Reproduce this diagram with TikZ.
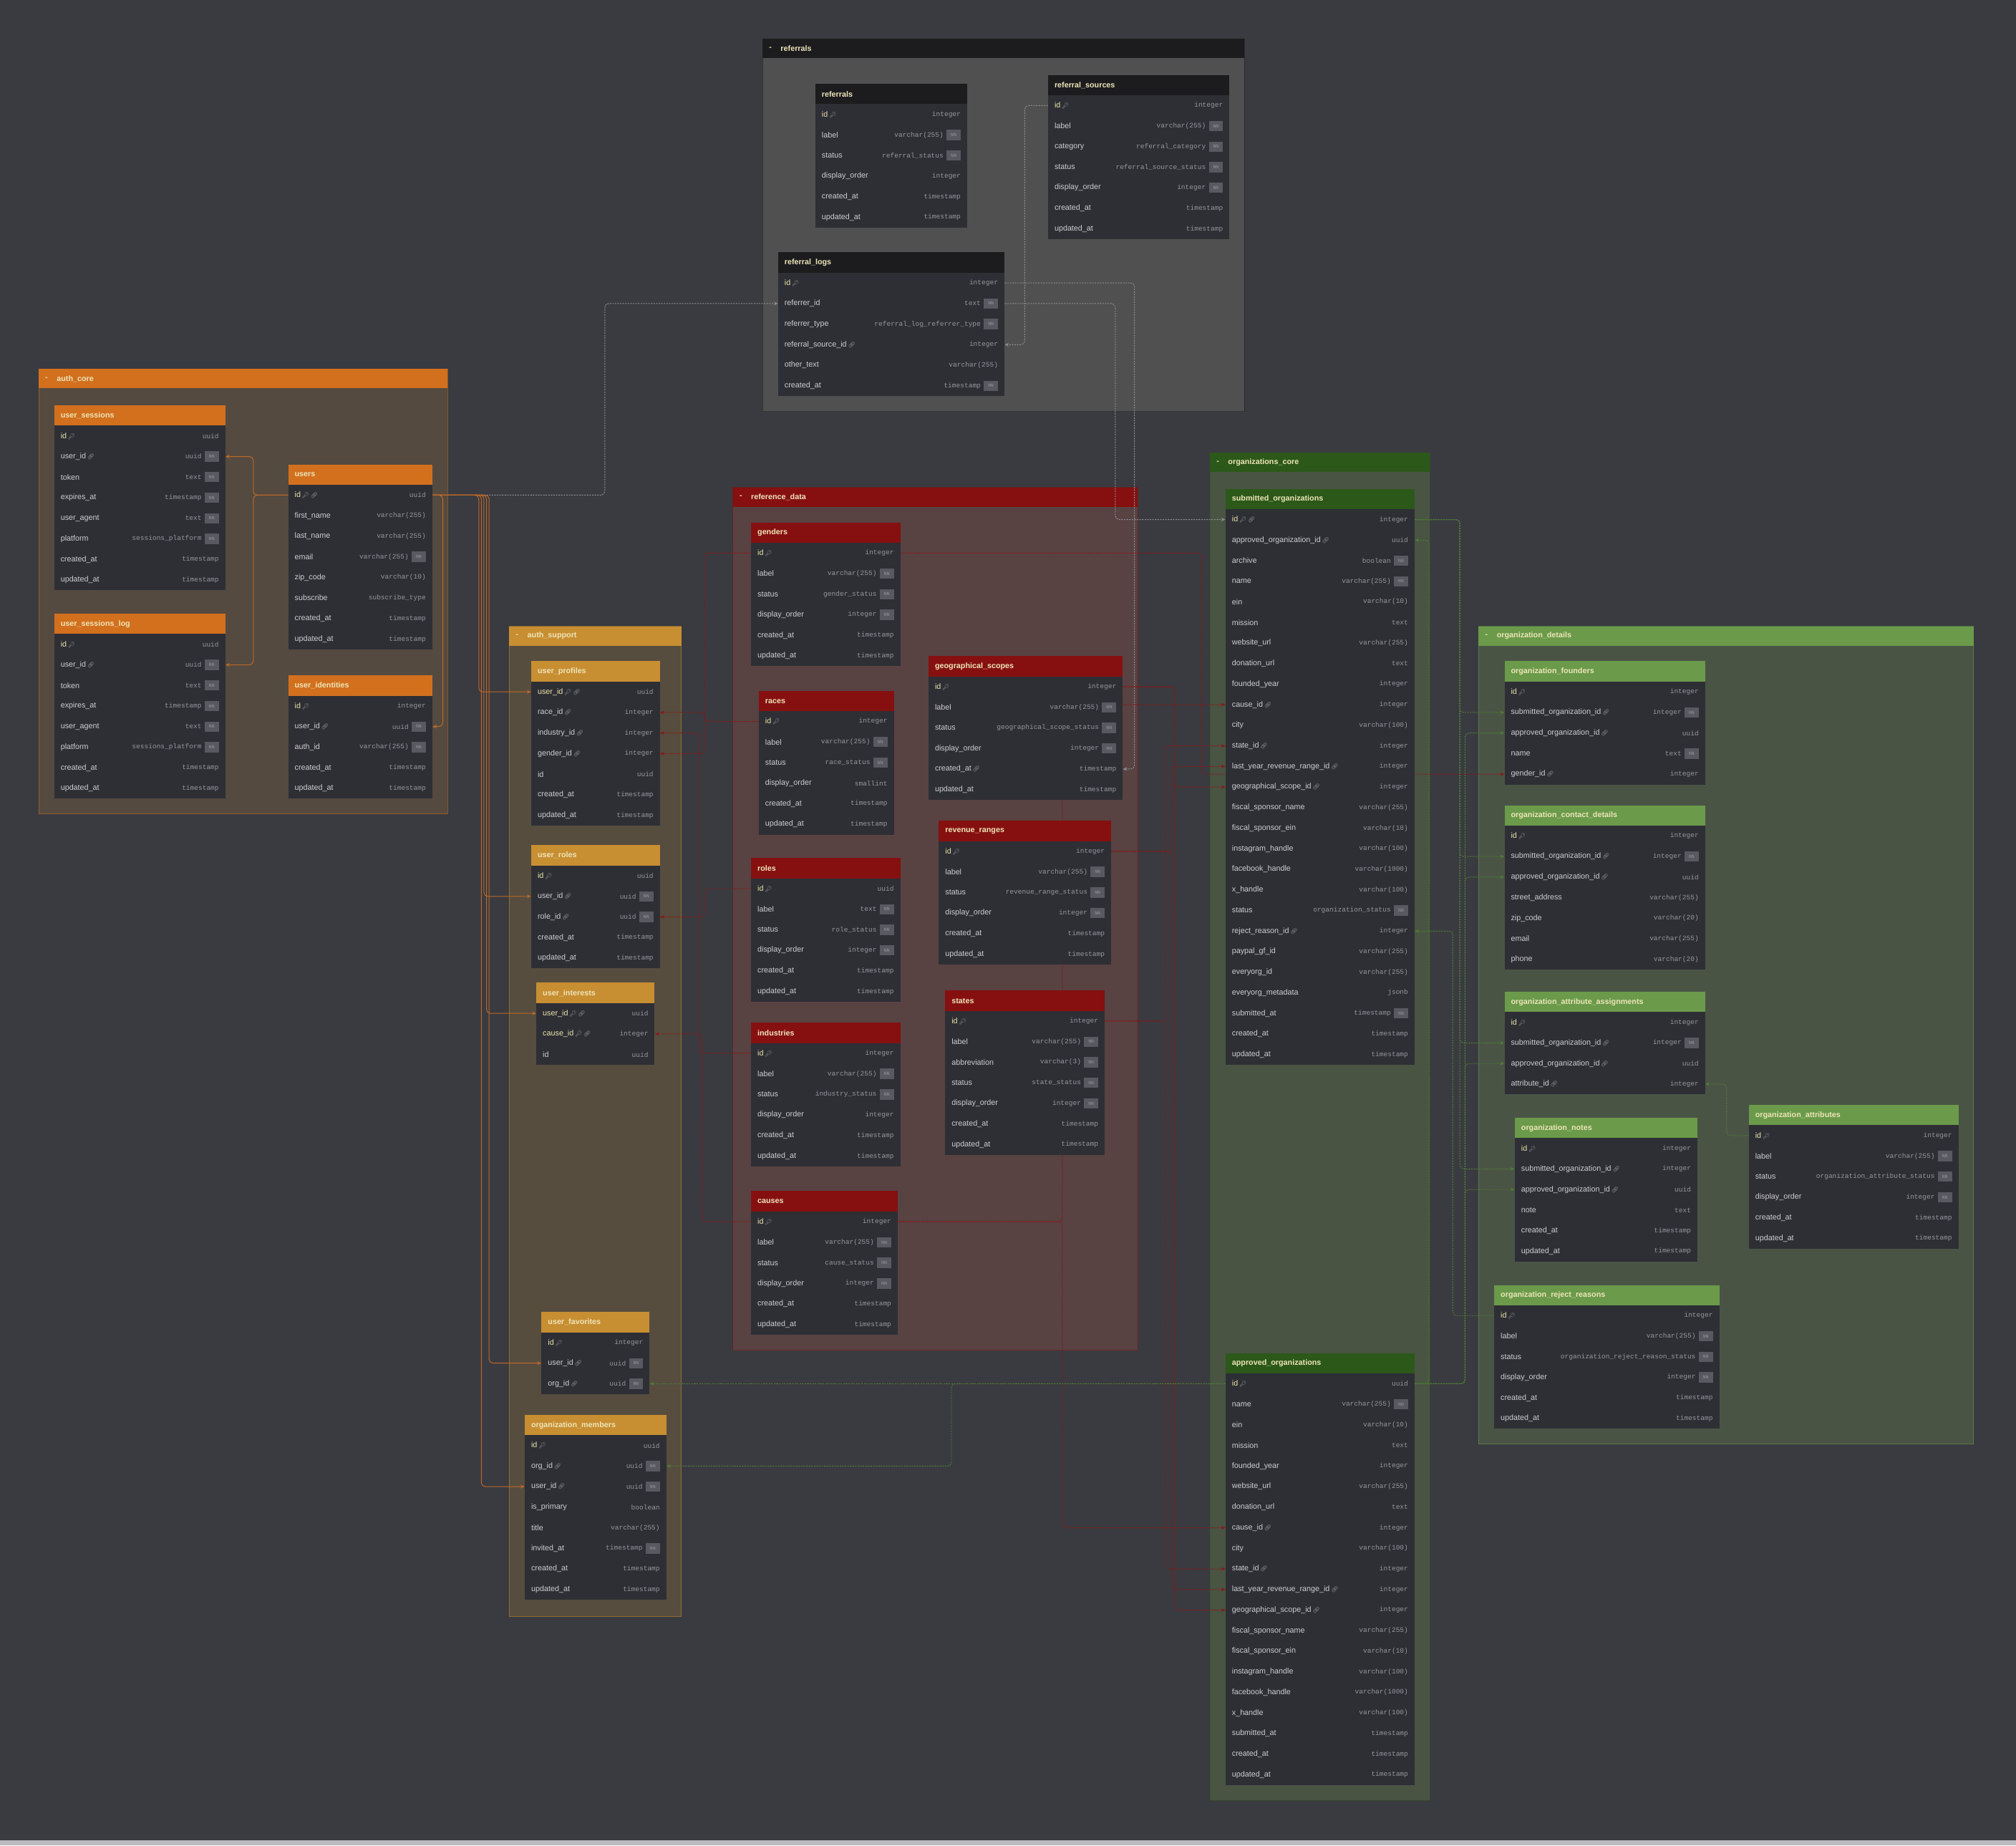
\documentclass[tikz,border=0pt]{standalone}
\usepackage{fontspec}
\setmainfont{Liberation Sans}
\setmonofont{Liberation Mono}
\newfontfamily\emojifont{Noto Emoji}
\usetikzlibrary{arrows.meta}

\pgfdeclarelayer{grp}
\pgfdeclarelayer{lnk}
\pgfsetlayers{grp,lnk,main}

\definecolor{canvas}{RGB}{58,59,64}
\definecolor{stripcol}{RGB}{185,185,190}
\definecolor{tblbody}{RGB}{46,47,53}
\definecolor{fldtxt}{RGB}{205,205,210}
\definecolor{typtxt}{RGB}{150,150,158}
\definecolor{pktxt}{RGB}{235,228,170}
\definecolor{nnbox}{RGB}{88,89,97}
\definecolor{headtxt}{RGB}{238,230,185}
\definecolor{refbg}{RGB}{80,80,80}
\definecolor{refhd}{RGB}{28,28,30}
\definecolor{acbg}{RGB}{85,74,64}
\definecolor{achd}{RGB}{210,112,30}
\definecolor{asbg}{RGB}{86,77,63}
\definecolor{ashd}{RGB}{200,142,50}
\definecolor{rdbg}{RGB}{88,66,66}
\definecolor{rdhd}{RGB}{134,16,16}
\definecolor{ocbg}{RGB}{73,84,67}
\definecolor{ochd}{RGB}{44,88,26}
\definecolor{odbg}{RGB}{74,84,69}
\definecolor{odhd}{RGB}{106,154,74}
\definecolor{lkgray}{RGB}{140,140,145}
\definecolor{lkorange}{RGB}{190,105,40}
\definecolor{lkred}{RGB}{140,22,22}
\definecolor{lkgreen}{RGB}{80,125,55}

\tikzset{
  tblhead/.style={inner sep=0pt, minimum height=16pt, anchor=north west},
  tblrow/.style={fill=tblbody, inner sep=0pt, minimum height=16pt, anchor=west},
  headtext/.style={inner sep=0pt, text=headtxt, font=\bfseries\fontsize{6}{7}\selectfont},
  fld/.style={inner sep=0pt, text=fldtxt, font=\fontsize{6}{7}\selectfont},
  typ/.style={inner sep=0pt, text=typtxt, font=\ttfamily\fontsize{5.3}{6}\selectfont},
  nnbadge/.style={fill=nnbox, inner sep=0.8pt, text=typtxt, font=\ttfamily\fontsize{3.6}{4}\selectfont, minimum width=11pt, minimum height=8pt},
  lk/.style={line width=0.55pt, rounded corners=3pt, -{Stealth[length=3.2pt,width=2.8pt]}},
  lk gray/.style={lk, draw=lkgray, dash pattern=on 1.2pt off 0.8pt},
  lk orange/.style={lk, draw=lkorange},
  lk red/.style={lk, draw=lkred, dash pattern=on 1.2pt off 0.8pt},
  lk green/.style={lk, draw=lkgreen, dash pattern=on 1.2pt off 0.8pt}
}

\newcommand{\keyicon}{\,{\color{typtxt}\emojifont\fontsize{4.5}{5}\selectfont\char"1F511}}
\newcommand{\linkicon}{\,{\color{typtxt}\emojifont\fontsize{4.5}{5}\selectfont\char"1F517}}

% group box: name, x1, y1, x2, y2, body colour, head colour
\newcommand{\ergroup}[7]{%
  \begin{pgfonlayer}{grp}
    \fill[#6] (#2,#3) rectangle (#4,#5);
    \draw[#7, line width=0.4pt, opacity=0.5] (#2,#3) rectangle (#4,#5);
    \fill[#7] (#2,#3) rectangle (#4,#3+15);
    \node[headtext, anchor=west] at (#2+5,#3+7.5) {-};
    \node[headtext, anchor=west] (grp-#1) at (#2+14,#3+7.5) {#1};
  \end{pgfonlayer}}

% table: name, left, right, top, head colour, rows name/type/icon/nn
\newcommand{\ertable}[6]{%
  \pgfmathsetmacro{\tw}{#3-#2}%
  \node[tblhead, fill=#5, minimum width=\tw pt] (#1) at (#2,#4) {};
  \node[headtext, anchor=west] at ([xshift=5pt]#1.west) {#1};
  \foreach [count=\i] \fn/\ft/\fk/\fb in {#6} {%
    \pgfmathsetmacro{\yc}{#4+24+16*(\i-1)}%
    \node[tblrow, minimum width=\tw pt] (#1-\fn) at (#2,\yc) {};
    \node[fld, anchor=west] at ([xshift=5pt]#1-\fn.west)
      {\ifodd\fk\color{pktxt}\fi\fn\ifcase\fk\or\keyicon\or\linkicon\or\keyicon\linkicon\fi};
    \ifnum\fb=1
      \node[nnbadge, anchor=east] (#1-\fn-nn) at ([xshift=-5pt]#1-\fn.east) {NN};
      \node[typ, anchor=east] at ([xshift=-2pt]#1-\fn-nn.west) {\ft};
    \else
      \node[typ, anchor=east] at ([xshift=-5pt]#1-\fn.east) {\ft};
    \fi
  }}

\begin{document}
\catcode`\_=12
\begin{tikzpicture}[x=1pt, y=-1pt]
\begin{pgfonlayer}{grp}
\fill[canvas] (0,0) rectangle (1568,1435);
\fill[stripcol] (0,1431) rectangle (1568,1435);
\end{pgfonlayer}
\useasboundingbox (0,0) rectangle (1568,1435);

\ergroup{referrals}{593}{30}{968}{320}{refbg}{refhd}
\ergroup{auth_core}{30}{287}{348}{633}{acbg}{achd}
\ergroup{auth_support}{396}{487}{530}{1257}{asbg}{ashd}
\ergroup{reference_data}{570}{379}{885}{1050}{rdbg}{rdhd}
\ergroup{organizations_core}{941}{352}{1112}{1400}{ocbg}{ochd}
\ergroup{organization_details}{1150}{487}{1535}{1123}{odbg}{odhd}

\ertable{referrals}{634}{752}{65}{refhd}{id/integer/1/0, label/varchar(255)/0/1, status/referral_status/0/1, display_order/integer/0/0, created_at/timestamp/0/0, updated_at/timestamp/0/0}
\ertable{referral_sources}{815}{956}{58}{refhd}{id/integer/1/0, label/varchar(255)/0/1, category/referral_category/0/1, status/referral_source_status/0/1, display_order/integer/0/1, created_at/timestamp/0/0, updated_at/timestamp/0/0}
\ertable{referral_logs}{605}{781}{196}{refhd}{id/integer/1/0, referrer_id/text/0/1, referrer_type/referral_log_referrer_type/0/1, referral_source_id/integer/2/0, other_text/varchar(255)/0/0, created_at/timestamp/0/1}

\ertable{user_sessions}{42}{175}{315}{achd}{id/uuid/1/0, user_id/uuid/2/1, token/text/0/1, expires_at/timestamp/0/1, user_agent/text/0/1, platform/sessions_platform/0/1, created_at/timestamp/0/0, updated_at/timestamp/0/0}
\ertable{user_sessions_log}{42}{175}{477}{achd}{id/uuid/1/0, user_id/uuid/2/1, token/text/0/1, expires_at/timestamp/0/1, user_agent/text/0/1, platform/sessions_platform/0/1, created_at/timestamp/0/0, updated_at/timestamp/0/0}
\ertable{users}{224}{336}{361}{achd}{id/uuid/3/0, first_name/varchar(255)/0/0, last_name/varchar(255)/0/0, email/varchar(255)/0/1, zip_code/varchar(10)/0/0, subscribe/subscribe_type/0/0, created_at/timestamp/0/0, updated_at/timestamp/0/0}
\ertable{user_identities}{224}{336}{525}{achd}{id/integer/1/0, user_id/uuid/2/1, auth_id/varchar(255)/0/1, created_at/timestamp/0/0, updated_at/timestamp/0/0}

\ertable{user_profiles}{413}{513}{514}{ashd}{user_id/uuid/3/0, race_id/integer/2/0, industry_id/integer/2/0, gender_id/integer/2/0, id/uuid/0/0, created_at/timestamp/0/0, updated_at/timestamp/0/0}
\ertable{user_roles}{413}{513}{657}{ashd}{id/uuid/1/0, user_id/uuid/2/1, role_id/uuid/2/1, created_at/timestamp/0/0, updated_at/timestamp/0/0}
\ertable{user_interests}{417}{509}{764}{ashd}{user_id/uuid/3/0, cause_id/integer/3/0, id/uuid/0/0}
\ertable{user_favorites}{421}{505}{1020}{ashd}{id/integer/1/0, user_id/uuid/2/1, org_id/uuid/2/1}
\ertable{organization_members}{408}{518}{1100}{ashd}{id/uuid/1/0, org_id/uuid/2/1, user_id/uuid/2/1, is_primary/boolean/0/0, title/varchar(255)/0/0, invited_at/timestamp/0/1, created_at/timestamp/0/0, updated_at/timestamp/0/0}

\ertable{genders}{584}{700}{406}{rdhd}{id/integer/1/0, label/varchar(255)/0/1, status/gender_status/0/1, display_order/integer/0/1, created_at/timestamp/0/0, updated_at/timestamp/0/0}
\ertable{races}{590}{695}{537}{rdhd}{id/integer/1/0, label/varchar(255)/0/1, status/race_status/0/1, display_order/smallint/0/0, created_at/timestamp/0/0, updated_at/timestamp/0/0}
\ertable{roles}{584}{700}{667}{rdhd}{id/uuid/1/0, label/text/0/1, status/role_status/0/1, display_order/integer/0/1, created_at/timestamp/0/0, updated_at/timestamp/0/0}
\ertable{industries}{584}{700}{795}{rdhd}{id/integer/1/0, label/varchar(255)/0/1, status/industry_status/0/1, display_order/integer/0/0, created_at/timestamp/0/0, updated_at/timestamp/0/0}
\ertable{causes}{584}{698}{926}{rdhd}{id/integer/1/0, label/varchar(255)/0/1, status/cause_status/0/1, display_order/integer/0/1, created_at/timestamp/0/0, updated_at/timestamp/0/0}
\ertable{geographical_scopes}{722}{873}{510}{rdhd}{id/integer/1/0, label/varchar(255)/0/1, status/geographical_scope_status/0/1, display_order/integer/0/1, created_at/timestamp/2/0, updated_at/timestamp/0/0}
\ertable{revenue_ranges}{730}{864}{638}{rdhd}{id/integer/1/0, label/varchar(255)/0/1, status/revenue_range_status/0/1, display_order/integer/0/1, created_at/timestamp/0/0, updated_at/timestamp/0/0}
\ertable{states}{735}{859}{770}{rdhd}{id/integer/1/0, label/varchar(255)/0/1, abbreviation/varchar(3)/0/1, status/state_status/0/1, display_order/integer/0/1, created_at/timestamp/0/0, updated_at/timestamp/0/0}

\ertable{submitted_organizations}{953}{1100}{380}{ochd}{id/integer/3/0, approved_organization_id/uuid/2/0, archive/boolean/0/1, name/varchar(255)/0/1, ein/varchar(10)/0/0, mission/text/0/0, website_url/varchar(255)/0/0, donation_url/text/0/0, founded_year/integer/0/0, cause_id/integer/2/0, city/varchar(100)/0/0, state_id/integer/2/0, last_year_revenue_range_id/integer/2/0, geographical_scope_id/integer/2/0, fiscal_sponsor_name/varchar(255)/0/0, fiscal_sponsor_ein/varchar(10)/0/0, instagram_handle/varchar(100)/0/0, facebook_handle/varchar(1000)/0/0, x_handle/varchar(100)/0/0, status/organization_status/0/1, reject_reason_id/integer/2/0, paypal_gf_id/varchar(255)/0/0, everyorg_id/varchar(255)/0/0, everyorg_metadata/jsonb/0/0, submitted_at/timestamp/0/1, created_at/timestamp/0/0, updated_at/timestamp/0/0}
\ertable{approved_organizations}{953}{1100}{1052}{ochd}{id/uuid/1/0, name/varchar(255)/0/1, ein/varchar(10)/0/0, mission/text/0/0, founded_year/integer/0/0, website_url/varchar(255)/0/0, donation_url/text/0/0, cause_id/integer/2/0, city/varchar(100)/0/0, state_id/integer/2/0, last_year_revenue_range_id/integer/2/0, geographical_scope_id/integer/2/0, fiscal_sponsor_name/varchar(255)/0/0, fiscal_sponsor_ein/varchar(10)/0/0, instagram_handle/varchar(100)/0/0, facebook_handle/varchar(1000)/0/0, x_handle/varchar(100)/0/0, submitted_at/timestamp/0/0, created_at/timestamp/0/0, updated_at/timestamp/0/0}

\ertable{organization_founders}{1170}{1326}{514}{odhd}{id/integer/1/0, submitted_organization_id/integer/2/1, approved_organization_id/uuid/2/0, name/text/0/1, gender_id/integer/2/0}
\ertable{organization_contact_details}{1170}{1326}{626}{odhd}{id/integer/1/0, submitted_organization_id/integer/2/1, approved_organization_id/uuid/2/0, street_address/varchar(255)/0/0, zip_code/varchar(20)/0/0, email/varchar(255)/0/0, phone/varchar(20)/0/0}
\ertable{organization_attribute_assignments}{1170}{1326}{771}{odhd}{id/integer/1/0, submitted_organization_id/integer/2/1, approved_organization_id/uuid/2/0, attribute_id/integer/2/0}
\ertable{organization_notes}{1178}{1320}{869}{odhd}{id/integer/1/0, submitted_organization_id/integer/2/0, approved_organization_id/uuid/2/0, note/text/0/0, created_at/timestamp/0/0, updated_at/timestamp/0/0}
\ertable{organization_attributes}{1360}{1523}{859}{odhd}{id/integer/1/0, label/varchar(255)/0/1, status/organization_attribute_status/0/1, display_order/integer/0/1, created_at/timestamp/0/0, updated_at/timestamp/0/0}
\ertable{organization_reject_reasons}{1162}{1337}{999}{odhd}{id/integer/1/0, label/varchar(255)/0/1, status/organization_reject_reason_status/0/1, display_order/integer/0/1, created_at/timestamp/0/0, updated_at/timestamp/0/0}

\begin{pgfonlayer}{lnk}
% referrals
\draw[lk gray] (referral_sources-id.west) -- ++(-18,0) |- (referral_logs-referral_source_id.east);
\draw[lk gray] (users-id.east) -- ++(134,0) |- (referral_logs-referrer_id.west);
\draw[lk gray] (referral_logs-referrer_id.east) -- ++(86,0) |- (submitted_organizations-id.west);
\draw[lk gray] (referral_logs-id.east) -- ++(101,0) |- (geographical_scopes-created_at.east);
% auth
\draw[lk orange] (users-id.west) -- ++(-27,0) |- (user_sessions-user_id.east);
\draw[lk orange] (users-id.west) -- ++(-27,0) |- (user_sessions_log-user_id.east);
\draw[lk orange] (users-id.east) -- ++(8,0) |- (user_identities-user_id.east);
\draw[lk orange] (users-id.east) -- ++(36,0) |- (user_profiles-user_id.west);
\draw[lk orange] (users-id.east) -- ++(40,0) |- (user_roles-user_id.west);
\draw[lk orange] (users-id.east) -- ++(42,0) |- (user_interests-user_id.west);
\draw[lk orange] (users-id.east) -- ++(44,0) |- (user_favorites-user_id.west);
\draw[lk orange] (users-id.east) -- ++(38,0) |- (organization_members-user_id.west);
% reference data
\draw[lk red] (genders-id.west) -- ++(-36,0) |- (user_profiles-gender_id.east);
\draw[lk red] (races-id.west) -- ++(-42,0) |- (user_profiles-race_id.east);
\draw[lk red] (industries-id.west) -- ++(-40,0) |- (user_profiles-industry_id.east);
\draw[lk red] (roles-id.west) -- ++(-36,0) |- (user_roles-role_id.east);
\draw[lk red] (causes-id.west) -- ++(-38,0) |- (user_interests-cause_id.east);
\draw[lk red] (genders-id.east) -- ++(234,0) |- (organization_founders-gender_id.west);
\draw[lk red] (causes-id.east) -- ++(128,0) |- (submitted_organizations-cause_id.west);
\draw[lk red] (causes-id.east) -- ++(128,0) |- (approved_organizations-cause_id.west);
\draw[lk red] (states-id.east) -- ++(47,0) |- (submitted_organizations-state_id.west);
\draw[lk red] (states-id.east) -- ++(47,0) |- (approved_organizations-state_id.west);
\draw[lk red] (revenue_ranges-id.east) -- ++(47,0) |- (submitted_organizations-last_year_revenue_range_id.west);
\draw[lk red] (revenue_ranges-id.east) -- ++(47,0) |- (approved_organizations-last_year_revenue_range_id.west);
\draw[lk red] (geographical_scopes-id.east) -- ++(40,0) |- (submitted_organizations-geographical_scope_id.west);
\draw[lk red] (geographical_scopes-id.east) -- ++(40,0) |- (approved_organizations-geographical_scope_id.west);
% organizations
\draw[lk green] (submitted_organizations-id.east) -- ++(35,0) |- (organization_founders-submitted_organization_id.west);
\draw[lk green] (submitted_organizations-id.east) -- ++(35,0) |- (organization_contact_details-submitted_organization_id.west);
\draw[lk green] (submitted_organizations-id.east) -- ++(35,0) |- (organization_attribute_assignments-submitted_organization_id.west);
\draw[lk green] (submitted_organizations-id.east) -- ++(35,0) |- (organization_notes-submitted_organization_id.west);
\draw[lk green] (approved_organizations-id.east) -- ++(39,0) |- (organization_founders-approved_organization_id.west);
\draw[lk green] (approved_organizations-id.east) -- ++(39,0) |- (organization_contact_details-approved_organization_id.west);
\draw[lk green] (approved_organizations-id.east) -- ++(39,0) |- (organization_attribute_assignments-approved_organization_id.west);
\draw[lk green] (approved_organizations-id.east) -- ++(39,0) |- (organization_notes-approved_organization_id.west);
\draw[lk green] (approved_organizations-id.east) -- ++(11,0) |- (submitted_organizations-approved_organization_id.east);
\draw[lk green] (approved_organizations-id.west) -- (user_favorites-org_id.east);
\draw[lk green] (approved_organizations-id.west) -- ++(-213,0) |- (organization_members-org_id.east);
\draw[lk green] (organization_reject_reasons-id.west) -- ++(-32,0) |- (submitted_organizations-reject_reason_id.east);
\draw[lk green] (organization_attributes-id.west) -- ++(-17,0) |- (organization_attribute_assignments-attribute_id.east);
\end{pgfonlayer}
\end{tikzpicture}
\end{document}
